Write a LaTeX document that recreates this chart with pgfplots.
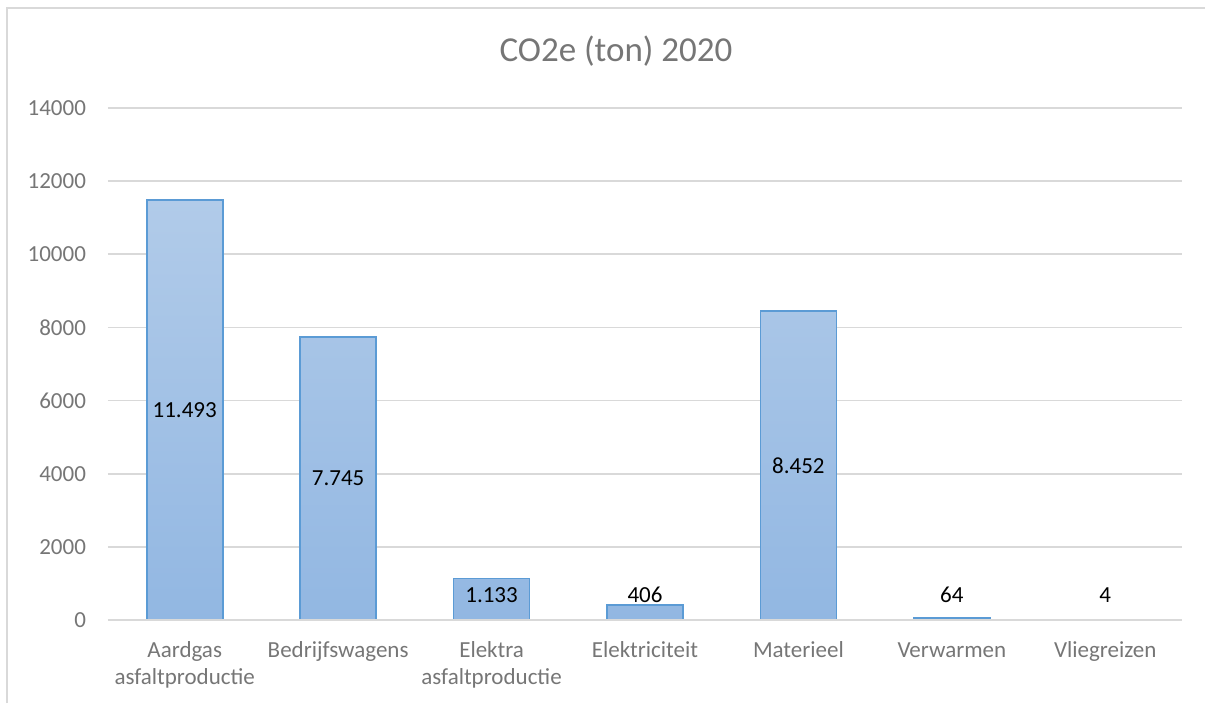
\documentclass[border=0pt]{standalone}
\usepackage{pgfplots}
\pgfplotsset{compat=1.18}
\usepackage{fontspec}
\setmainfont{Carlito}
\definecolor{tickgray}{RGB}{118,118,118}
\definecolor{gridgray}{RGB}{217,217,217}
\definecolor{framegray}{RGB}{217,217,217}
\definecolor{barborder}{RGB}{91,155,213}
\definecolor{bartop}{RGB}{177,203,233}
\definecolor{barbot}{RGB}{146,183,226}
\begin{document}
\begin{tikzpicture}
\path[use as bounding box] (0,0) rectangle (602.5pt,351.5pt);
\draw[framegray, line width=1pt] (3.5pt,0) -- (3.5pt,347.5pt) -- (602.5pt,347.5pt);
\node[tickgray, font=\fontsize{17.5}{21}\selectfont] at (308pt,326pt) {CO2e (ton) 2020};
\begin{axis}[
  at={(54pt,41.5pt)}, anchor=south west,
  scale only axis, width=537pt, height=256pt,
  xmin=-0.5, xmax=6.5, ymin=0, ymax=14000,
  ytick={0,2000,...,14000},
  xtick={0,...,6},
  xticklabels={{\strut Aardgas\\asfaltproductie},{\strut Bedrijfswagens},{\strut Elektra\\asfaltproductie},{\strut Elektriciteit},{\strut Materieel},{\strut Verwarmen},{\strut Vliegreizen}},
  xticklabel style={align=center, font=\fontsize{11.5}{13.5}\selectfont, text=tickgray, yshift=-6pt},
  yticklabel style={font=\fontsize{11.5}{13.5}\selectfont, text=tickgray, xshift=-7.5pt},
  /pgf/number format/assume math mode=true,
  scaled y ticks=false,
  yticklabel={\pgfmathprintnumber[fixed,1000 sep={}]{\tick}},
  major tick length=0pt,
  axis line style={draw=none},
  ymajorgrids, grid style={gridgray, line width=0.9pt},
  clip=false,
]
\addplot[ybar, bar width=38pt, draw=barborder, line width=0.9pt, top color=bartop, bottom color=barbot]
  coordinates {(0,11493) (1,7745) (2,1133) (3,406) (4,8452) (5,64) (6,4)};
\draw[gridgray, line width=0.9pt] (axis cs:-0.5,0) -- (axis cs:6.5,0);
\begin{scope}[every node/.style={font=\fontsize{11.5}{13.5}\selectfont, text=black}]
\node at (axis cs:0,5746) {11.493};
\node at (axis cs:1,3872) {7.745};
\node at (axis cs:2,684) {1.133};
\node at (axis cs:3,684) {406};
\node at (axis cs:4,4226) {8.452};
\node at (axis cs:5,684) {64};
\node at (axis cs:6,684) {4};
\end{scope}
\end{axis}
\end{tikzpicture}
\end{document}
